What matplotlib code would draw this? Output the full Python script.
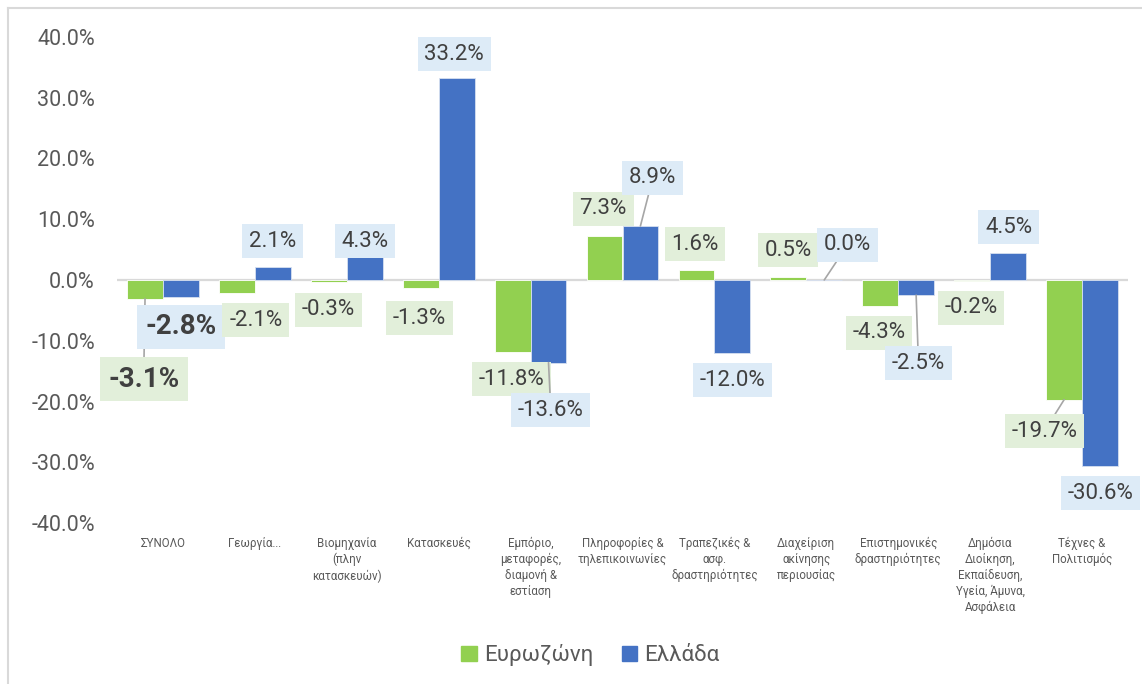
import numpy as np
import matplotlib.pyplot as plt
from matplotlib.patches import Patch
from matplotlib.lines import Line2D

plt.rcParams['font.family'] = ['Roboto', 'DejaVu Sans']

# Δεδομένα (% μεταβολή)
categories = [
    "ΣΥΝΟΛΟ", "Γεωργία...", "Βιομηχανία\n(πλην\nκατασκευών)", "Κατασκευές",
    "Εμπόριο,\nμεταφορές,\nδιαμονή &\nεστίαση", "Πληροφορίες &\nτηλεπικοινωνίες",
    "Τραπεζικές &\nασφ.\nδραστηριότητες", "Διαχείριση\nακίνησης\nπεριουσίας",
    "Επιστημονικές\nδραστηριότητες", "Δημόσια\nΔιοίκηση,\nΕκπαίδευση,\nΥγεία, Άμυνα,\nΑσφάλεια",
    "Τέχνες &\nΠολιτισμός",
]
eurozone = [-3.1, -2.1, -0.3, -1.3, -11.8, 7.3, 1.6, 0.5, -4.3, -0.2, -19.7]
greece = [-2.8, 2.1, 4.3, 33.2, -13.6, 8.9, -12.0, 0.0, -2.5, 4.5, -30.6]
series_names = ["Ευρωζώνη", "Ελλάδα"]

# θέσεις ετικετών (dx από το κέντρο κατηγορίας, y σε %)
ez_lab = [(-0.21, -16.3), (0.01, -6.6), (-0.20, -4.9), (-0.21, -6.3), (-0.21, -16.3),
          (-0.21, 11.7), (-0.21, 5.9), (-0.20, 4.9), (-0.21, -8.7), (-0.21, -4.6), (-0.41, -24.9)]
gr_lab = [(0.20, -7.7), (0.19, 6.4), (0.20, 6.4), (0.17, 37.2), (0.22, -21.4),
          (0.33, 16.8), (0.20, -16.5), (0.45, 5.8), (0.22, -13.7), (0.20, 8.7), (0.20, -35.1)]
ez_leader = {0, 10}
gr_leader = {4, 5, 7, 8}

green = "#92D050"
blue = "#4472C4"
green_box = "#E2EFDA"
blue_box = "#DDEBF7"
txt = "#404040"

fig = plt.figure(figsize=(11.42, 6.84), dpi=100)
ax = fig.add_axes([117 / 1142, 1 - 523 / 684, 1011 / 1142, 486 / 684])

x = np.arange(len(categories))
w = 0.39
ax.bar(x - w / 2, eurozone, w, color=green, edgecolor="white", linewidth=0.6, zorder=2)
ax.bar(x + w / 2, greece, w, color=blue, edgecolor="#D6E0F0", linewidth=0.6, zorder=2)
ax.axhline(0, color="#D9D9D9", linewidth=1.6, zorder=1)


def put_label(i, val, pos, bar_dx, boxc, leader, bold):
    lx, ly = i + pos[0], pos[1]
    size = 20 if bold else 16
    weight = "bold" if bold else "normal"
    bbox = dict(boxstyle="square,pad=0.3", fc=boxc, ec="none")
    s = f"{val:.1f}%"
    if leader:
        ax.annotate(s, xy=(i + bar_dx, val), xytext=(lx, ly), ha="center", va="center",
                    fontsize=size, fontweight=weight, color=txt, bbox=bbox, zorder=4,
                    arrowprops=dict(arrowstyle="-", color="#A6A6A6", lw=1.2,
                                    shrinkA=0, shrinkB=0))
    else:
        ax.text(lx, ly, s, ha="center", va="center", fontsize=size, fontweight=weight,
                color=txt, bbox=bbox, zorder=4)


for i in range(len(categories)):
    put_label(i, eurozone[i], ez_lab[i], -w / 2, green_box, i in ez_leader, i == 0)
    put_label(i, greece[i], gr_lab[i], w / 2, blue_box, i in gr_leader, i == 0)

ax.set_xlim(-0.5, len(categories) - 0.5)
ax.set_ylim(-40, 40)
ax.set_yticks(np.arange(-40, 41, 10))
ax.set_yticklabels([f"{v:.1f}%" for v in np.arange(-40, 41, 10)], fontsize=15.5, color="#595959")
ax.set_xticks(x)
ax.set_xticklabels(categories, fontsize=8.3, color="#595959", linespacing=1.3, va="top")
ax.tick_params(axis="y", length=0, pad=16)
ax.tick_params(axis="x", length=0, pad=10)
for sp in ax.spines.values():
    sp.set_visible(False)

handles = [Patch(color=green), Patch(color=blue)]
fig.legend(handles, series_names, loc="center", bbox_to_anchor=(0.517, 0.042), ncol=2,
           frameon=False, fontsize=16, labelcolor="#595959", handlelength=0.7,
           handleheight=0.7, handletextpad=0.3, columnspacing=1.3)

# πλαίσιο γραφήματος
fig.add_artist(Line2D([8 / 1142, 8 / 1142], [0, 1 - 8 / 684], color="#D9D9D9", lw=1.5))
fig.add_artist(Line2D([8 / 1142, 1], [1 - 8 / 684, 1 - 8 / 684], color="#D9D9D9", lw=1.5))

fig.savefig("out.png", dpi=100)
